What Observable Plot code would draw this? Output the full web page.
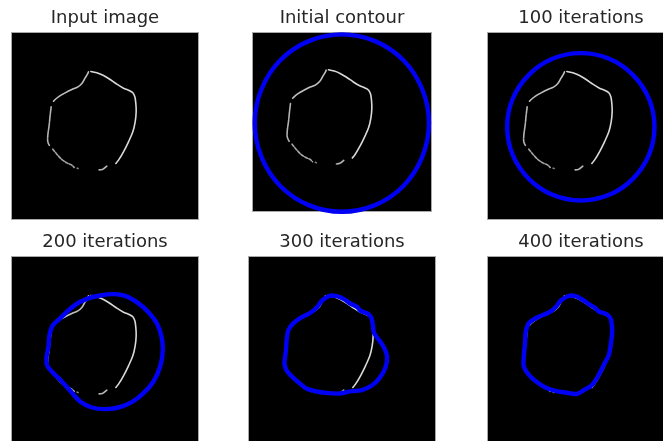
<!DOCTYPE html>
<html>
<head>
<meta charset="utf-8">
<script src="https://cdn.jsdelivr.net/npm/d3@7"></script>
<script src="https://cdn.jsdelivr.net/npm/@observablehq/plot@0.6"></script>
<style>
html,body{margin:0;padding:0;background:#fff;width:663px;height:441px;overflow:hidden}
#root{position:relative;width:663px;height:441px;overflow:hidden;filter:blur(.55px)}
#root>svg{position:absolute}
</style>
</head>
<body>
<div id="root"></div>
<script>
// Image coordinates: 561 units across the image, y downward
const titles = ["Input image","Initial contour","100 iterations","200 iterations","300 iterations","400 iterations"];

const edgeUpperLeft = [[231,118],[228,125],[221,136],[211,153],[198,164],[181,171],[161,181],[144,191],[131,201],[126,206]];
const edgeRight = [[238,117],[256,121],[276,129],[296,141],[316,155],[336,167],[351,173],[364,181],[370,193],[373,213],[374,238],[371,268],[364,298],[351,328],[336,358],[321,383],[313,393]];
const edgeLeft = [[119,223],[116,248],[113,278],[109,308],[109,328],[115,341]];
const edgeLowerLeft = [[124,350],[136,365],[151,381],[166,391],[181,398],[188,405]];
const edgeDot = [[197,407],[200,408]];
const edgeBottom = [[263,412],[274,410],[286,401]];

const contourInitial = [[553,284],[532,390],[473,481],[384,541],[280,562],[176,541],[87,481],[28,390],[7,284],[28,178],[87,87],[176,27],[280,6],[384,27],[473,87],[532,178]];
const contour100 = [[501,283],[484,368],[436,439],[365,487],[280,504],[195,487],[124,439],[76,368],[59,283],[76,198],[124,127],[195,79],[280,62],[365,79],[436,127],[484,198]];
const contour200 = [[306,113],[341,118],[376,137],[411,167],[436,200],[450,240],[454,280],[446,330],[426,375],[396,410],[361,437],[321,453],[281,458],[241,453],[206,435],[178,405],[151,375],[121,345],[107,327],[105,303],[111,270],[114,235],[123,208],[141,190],[163,169],[191,145],[226,127],[266,117]];
const contour300 = [[243,118],[265,119],[285,127],[305,141],[325,151],[337,163],[360,173],[369,185],[373,205],[377,230],[395,255],[410,280],[416,305],[410,335],[393,365],[370,387],[340,401],[310,404],[275,411],[240,410],[205,405],[175,397],[153,380],[130,360],[113,340],[108,320],[112,285],[115,245],[120,220],[135,200],[160,182],[187,168],[205,153],[220,133]];
const contour400 = [[244,118],[264,119],[284,129],[304,143],[321,153],[334,165],[357,173],[369,185],[373,205],[374,230],[371,255],[364,295],[349,325],[331,360],[314,385],[289,401],[269,412],[234,408],[204,403],[174,393],[149,377],[124,355],[109,330],[109,300],[113,255],[115,225],[124,200],[149,183],[184,168],[204,153],[219,133]];

const contours = [null, contourInitial, contour100, contour200, contour300, contour400];
const edges = [
  {pts: edgeUpperLeft, o: .75, dash: null},
  {pts: edgeRight, o: .85, dash: null},
  {pts: edgeLeft, o: .7, dash: "7 1"},
  {pts: edgeLowerLeft, o: .65, dash: "3 1.5"},
  {pts: edgeDot, o: .5, dash: null},
  {pts: edgeBottom, o: .7, dash: null}
];

// Panel layout on the page
const panels = [
  {l:11, t:32, w:187, h:187},
  {l:252, t:32, w:179, h:179},
  {l:486.5, t:32, w:187, h:187},
  {l:11, t:256, w:187, h:187},
  {l:248, t:256, w:187, h:187},
  {l:486.5, t:256, w:187, h:187}
];
const mTop = 30, mSide = 4;
const root = document.getElementById("root");

panels.forEach((p, i) => {
  const marks = [Plot.frame({fill:"black", stroke:"#a8a8a8", strokeWidth:1})];
  for (const e of edges) {
    marks.push(Plot.line(e.pts, {x:d=>d[0], y:d=>d[1], stroke:"white", strokeWidth:1.6, strokeOpacity:e.o, strokeDasharray:e.dash, curve:"catmull-rom"}));
  }
  if (contours[i]) {
    marks.push(Plot.line(contours[i], {x:d=>d[0], y:d=>d[1], stroke:"#0000f5", strokeWidth:4.4, curve:"catmull-rom-closed"}));
  }
  marks.push(Plot.text([titles[i]], {
    text:d=>d, frameAnchor:"top", lineAnchor:"middle", dy:-15,
    fontSize:18, fill:"#262626", fontFamily:"DejaVu Sans"
  }));
  const svg = Plot.plot({
    width: p.w + 2*mSide,
    height: p.h + mTop + mSide,
    marginTop: mTop, marginBottom: mSide, marginLeft: mSide, marginRight: mSide,
    x:{domain:[0,561], axis:null},
    y:{domain:[561,0], axis:null},
    style:{background:"transparent", overflow:"visible"},
    marks
  });
  svg.style.left = (p.l - mSide) + "px";
  svg.style.top = (p.t - mTop) + "px";
  root.appendChild(svg);
});
</script>
</body>
</html>
